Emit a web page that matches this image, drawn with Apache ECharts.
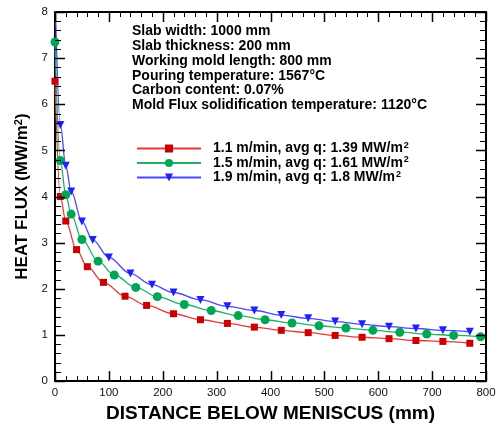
<!DOCTYPE html>
<html>
<head>
<meta charset="utf-8">
<script src="https://cdn.jsdelivr.net/npm/echarts@6/dist/echarts.min.js"></script>
<style>
html,body{margin:0;padding:0;background:#fff;}
#chart{width:499px;height:428px;}
</style>
</head>
<body>
<div id="chart"></div>
<script>
// Casting speeds and average heat flux per speed
const speeds = ['1.1', '1.5', '1.9'];
const avgQ = ['1.39', '1.61', '1.8'];

// Distance below meniscus (mm) and heat flux (MW/m2) for each speed
const dist11 = [0, 10, 20, 40, 60, 90, 130, 170, 220, 270, 320, 370, 420, 470, 520, 570, 620, 670, 720, 770];
const flux11 = [6.5, 4.0, 3.47, 2.85, 2.48, 2.14, 1.84, 1.64, 1.46, 1.33, 1.25, 1.17, 1.10, 1.05, 0.99, 0.95, 0.92, 0.88, 0.86, 0.82];

const dist15 = [0, 10, 20, 30, 50, 80, 110, 150, 190, 240, 290, 340, 390, 440, 490, 540, 590, 640, 690, 740, 790];
const flux15 = [7.35, 4.78, 4.04, 3.62, 3.07, 2.60, 2.30, 2.03, 1.83, 1.66, 1.53, 1.42, 1.33, 1.26, 1.20, 1.15, 1.10, 1.06, 1.02, 0.99, 0.96];

const dist19 = [0, 10, 20, 30, 50, 70, 100, 140, 180, 220, 270, 320, 370, 420, 470, 520, 570, 620, 670, 720, 770];
const flux19 = [8.4, 5.55, 4.67, 4.11, 3.46, 3.06, 2.68, 2.33, 2.09, 1.92, 1.76, 1.62, 1.53, 1.43, 1.36, 1.29, 1.23, 1.18, 1.14, 1.10, 1.07];

// Axis ranges and tick spacing (major / minor)
const xRange = [0, 800], xMajor = 100, xMinor = 20;
const yRange = [0, 8], yMajor = 1, yMinor = 0.2;

// Process conditions
const notes = [
  'Slab width: 1000 mm',
  'Slab thickness: 200 mm',
  'Working mold length: 800 mm',
  'Pouring temperature: 1567°C',
  'Carbon content: 0.07%',
  'Mold Flux solidification temperature: 1120°C'
];

const FONT = 'Liberation Sans, Arial, sans-serif';
const zip = (xs, ys) => xs.map((x, i) => [x, ys[i]]);
const names = speeds.map(s => s + ' m/min');

const chart = echarts.init(document.getElementById('chart'), null, {renderer: 'canvas'});

function baseAxis(extra) {
  return Object.assign({
    type: 'value',
    axisLine: {show: true, onZero: false, lineStyle: {color: '#000', width: 2}},
    axisTick: {show: false},
    minorTick: {show: false},
    splitLine: {show: false},
    minorSplitLine: {show: false}
  }, extra);
}

// Inward major/minor ticks on all four sides of the plot frame
function renderFrameTicks(params, api) {
  const cs = params.coordSys;
  const left = cs.x, right = cs.x + cs.width, top = cs.y, bottom = cs.y + cs.height;
  const children = [];
  const nx = Math.round((xRange[1] - xRange[0]) / xMinor);
  const perX = Math.round(xMajor / xMinor);
  for (let i = 0; i <= nx; i++) {
    const px = Math.round(api.coord([xRange[0] + i * xMinor, yRange[0]])[0]) + 0.5;
    const major = i % perX === 0;
    const len = major ? 10 : 5;
    const style = {stroke: '#000', lineWidth: major ? 1.5 : 1};
    children.push({type: 'line', shape: {x1: px, y1: bottom, x2: px, y2: bottom - len}, style: style});
    children.push({type: 'line', shape: {x1: px, y1: top, x2: px, y2: top + len}, style: style});
  }
  const ny = Math.round((yRange[1] - yRange[0]) / yMinor);
  const perY = Math.round(yMajor / yMinor);
  for (let i = 0; i <= ny; i++) {
    const py = Math.round(api.coord([xRange[0], yRange[0] + i * yMinor])[1]) + 0.5;
    const major = i % perY === 0;
    const len = major ? 10 : 6;
    const style = {stroke: '#000', lineWidth: major ? 1.5 : 1};
    children.push({type: 'line', shape: {x1: left, y1: py, x2: left + len, y2: py}, style: style});
    children.push({type: 'line', shape: {x1: right, y1: py, x2: right - len, y2: py}, style: style});
  }
  return {type: 'group', children: children};
}

function lineSeries(i, data, color, lineColor, symbol, size, rotate) {
  return {
    name: names[i],
    type: 'line',
    xAxisIndex: 0,
    yAxisIndex: 0,
    data: data,
    smooth: 0.35,
    smoothMonotone: 'x',
    symbol: symbol,
    symbolSize: size,
    symbolRotate: rotate || 0,
    showAllSymbol: true,
    lineStyle: {color: lineColor, width: 1.3},
    itemStyle: {color: color, borderWidth: 0}
  };
}

chart.setOption({
  animation: false,
  grid: {left: 55, right: 13, top: 12, bottom: 46},
  title: {
    text: notes.join('\n'),
    left: 132,
    top: 24,
    padding: 0,
    textStyle: {fontFamily: FONT, fontSize: 14, fontWeight: 'bold', color: '#000', lineHeight: 14.8}
  },
  legend: {
    orient: 'vertical',
    left: 136,
    top: 141,
    padding: 0,
    itemWidth: 64,
    itemHeight: 10,
    itemGap: 0,
    data: names,
    formatter: function (name) {
      const i = names.indexOf(name);
      return '{t|' + speeds[i] + ' m/min, avg q: ' + avgQ[i] + ' MW/m}{s|2}';
    },
    textStyle: {
      fontFamily: FONT,
      padding: [0, 0, 0, 7],
      rich: {
        t: {fontFamily: FONT, fontSize: 14, fontWeight: 'bold', color: '#000', lineHeight: 15},
        s: {fontFamily: FONT, fontSize: 9, fontWeight: 'bold', color: '#000', lineHeight: 15, verticalAlign: 'top', padding: [0, 0, 0, 1]}
      }
    }
  },
  xAxis: [
    baseAxis({
      min: xRange[0], max: xRange[1], interval: xMajor, position: 'bottom',
      name: 'DISTANCE BELOW MENISCUS (mm)',
      nameLocation: 'middle', nameGap: 22,
      nameTextStyle: {fontFamily: FONT, fontSize: 19, fontWeight: 'bold', color: '#000'},
      axisLabel: {fontFamily: FONT, fontSize: 11.5, color: '#111', margin: 6}
    }),
    baseAxis({min: xRange[0], max: xRange[1], interval: xMajor, position: 'top', axisLabel: {show: false}})
  ],
  yAxis: [
    baseAxis({
      min: yRange[0], max: yRange[1], interval: yMajor, position: 'left',
      name: '{a|HEAT FLUX (MW/m}{s|2}{a|)}',
      nameLocation: 'middle', nameGap: 21,
      nameTextStyle: {
        rich: {
          a: {fontFamily: FONT, fontSize: 17, fontWeight: 'bold', color: '#000'},
          s: {fontFamily: FONT, fontSize: 11, fontWeight: 'bold', color: '#000', verticalAlign: 'top'}
        }
      },
      axisLabel: {fontFamily: FONT, fontSize: 11.5, color: '#111', margin: 7}
    }),
    baseAxis({min: yRange[0], max: yRange[1], interval: yMajor, position: 'right', axisLabel: {show: false}})
  ],
  series: [
    lineSeries(0, zip(dist11, flux11), '#cc0000', '#e23b3b', 'rect', 7),
    lineSeries(1, zip(dist15, flux15), '#00a651', '#22b068', 'circle', 9),
    lineSeries(2, zip(dist19, flux19), '#2020ff', '#4848ff', 'triangle', 8, 180),
    {
      type: 'custom',
      name: 'frame ticks',
      xAxisIndex: 0,
      yAxisIndex: 0,
      data: [[xRange[0], yRange[0]]],
      renderItem: renderFrameTicks,
      clip: false,
      silent: true,
      z: 10
    }
  ]
});
</script>
</body>
</html>
